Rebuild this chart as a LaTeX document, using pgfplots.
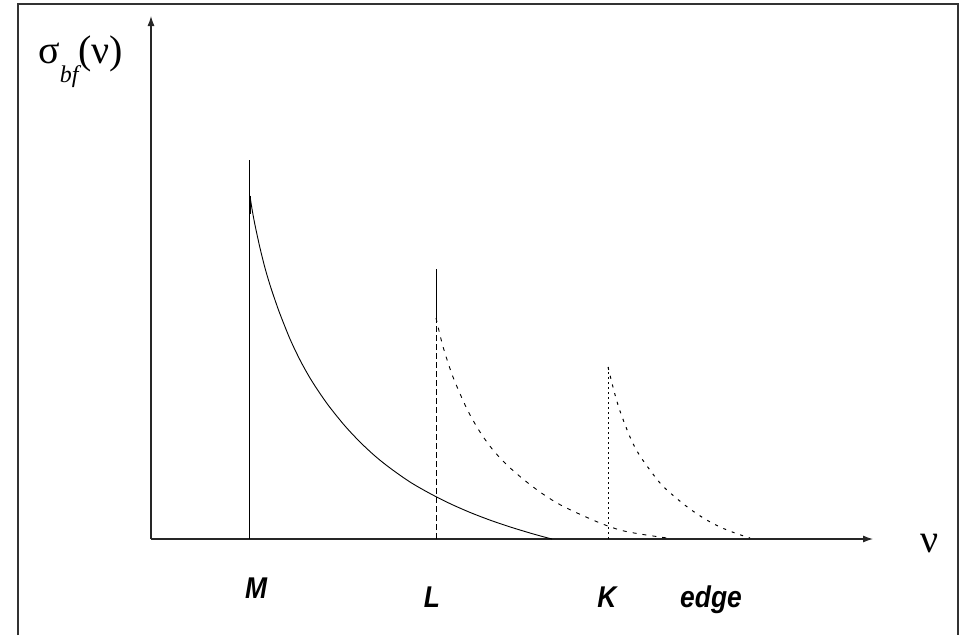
\documentclass[border=0pt]{standalone}
\usepackage{pgfplots}
\pgfplotsset{compat=1.18}
\usepackage{fontspec}
\usepackage{graphicx}
\setmainfont{Liberation Serif}
\newfontfamily\labfont{Liberation Sans}
\usetikzlibrary{arrows.meta}
\begin{document}
\begin{tikzpicture}[x=1pt,y=1pt]
\path[use as bounding box] (0,0) rectangle (959,-635);
\draw[line width=1.6pt, black!80] (18,-635) -- (18,-4) -- (958,-4) -- (958,-635);
\begin{axis}[
  at={(151pt,-539pt)}, anchor=south west,
  scale only axis, width=722pt, height=523pt,
  xmin=151, xmax=873, ymin=0, ymax=523,
  axis lines=left, ticks=none, clip=false,
  axis line style={line width=1.1pt, black!85, -{Latex[length=10pt,width=7pt]}},
]
% M edge
\addplot[black, line width=1pt] coordinates {(249,0) (249,379)};
\addplot[black, line width=1.8pt] coordinates {(250,343) (250,325)};
\addplot[black, line width=0.9pt, smooth] coordinates {
(250,343) (252,330) (255,314) (260,291) (265,271) (270,254) (275,239) (280,225) (290,200) (300,179) (310,161) (320,145.5) (330,131.5) (345,113) (360,97) (375,83) (390,71) (410,57) (430,45.5) (450,35.4) (470,26.6) (490,18.9) (510,12.1) (530,6) (545,1.8) (552,0)};
% L edge
\addplot[black, line width=1pt] coordinates {(436,221) (436,270)};
\addplot[black, line width=0.9pt, dash pattern=on 6pt off 3pt] coordinates {(436,0) (436,221)};
\addplot[black, line width=0.9pt, smooth, dash pattern=on 4pt off 6pt] coordinates {
(436,221) (440,204) (444,189) (453,162) (467,130) (480,107) (493,89) (507,74) (523,60) (540,47) (557,36) (575,27) (600,16) (620,9) (640,5) (667,1)};
% K edge
\addplot[black, line width=1pt, dash pattern=on 2pt off 3pt] coordinates {(608,0) (608,172)};
\addplot[black, line width=1pt, smooth, dash pattern=on 3pt off 6pt] coordinates {
(608,172) (614,148) (620,128) (630,102) (640,83) (660,56) (675,42) (690,30) (705,20) (720,12) (735,6) (750,1)};
\end{axis}
\node[anchor=base west, inner sep=0pt, font=\fontsize{40}{44}\selectfont] at (38,-63)
  {σ\raisebox{-19pt}{\fontsize{24}{26}\selectfont\itshape bf}(ν)};
\node[anchor=base west, inner sep=0pt, font=\fontsize{40}{44}\selectfont] at (920,-552) {ν};
\begin{scope}[every node/.style={anchor=base, inner sep=0pt, font=\labfont\fontsize{30}{32}\selectfont\bfseries\itshape}]
\node at (256,-598) {\scalebox{0.88}[1]{M}};
\node at (432,-607) {\scalebox{0.88}[1]{L}};
\node at (607,-607) {\scalebox{0.88}[1]{K}};
\node at (711,-607) {\scalebox{0.88}[1]{edge}};
\end{scope}
\end{tikzpicture}
\end{document}
